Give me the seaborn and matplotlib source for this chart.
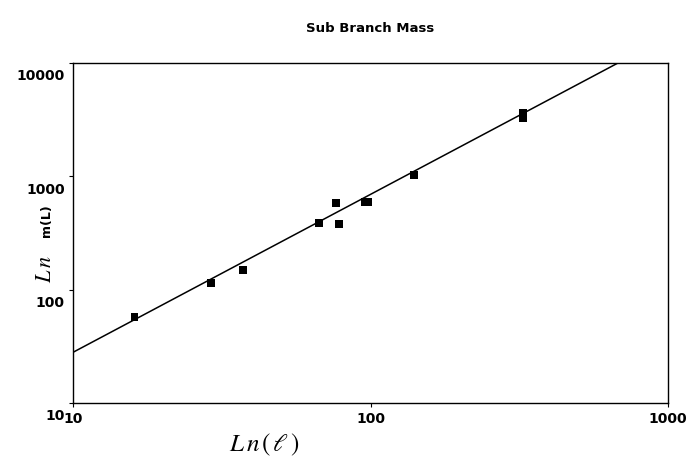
import seaborn as sns
import matplotlib.pyplot as plt
from matplotlib.transforms import ScaledTranslation

# values (log-log)
length = [16.1, 29.1, 37.2, 67.1, 76.5, 78.3, 95.7, 98.3, 140, 325, 326]
mass = [57, 115, 149, 387, 578, 379, 590, 590, 1028, 3623, 3252]
# fitted power-law line, end points
fit_length = [10, 679]
fit_mass = [28, 10000]
x_ticks = [10, 100, 1000]
y_ticks = [10, 100, 1000, 10000]

sns.set_theme(style="ticks")
plt.rcParams["font.family"] = ["DejaVu Sans"]
plt.rcParams["mathtext.fontset"] = "stix"
plt.rcParams["text.color"] = "black"

fig = plt.figure(figsize=(6.9, 4.64), dpi=100)
ax = fig.add_axes([73 / 690, 60 / 464, 595 / 690, 340 / 464])
ax.set_xscale("log")
ax.set_yscale("log")

sns.lineplot(x=fit_length, y=fit_mass, ax=ax, color="black", lw=1.1)
sns.scatterplot(x=length, y=mass, ax=ax, marker="s", s=32, color="black",
                edgecolor="none", zorder=3)

ax.set_xlim(10, 1000)
ax.set_ylim(10, 10000)
ax.minorticks_off()
ax.set_xticks(x_ticks, labels=[str(v) for v in x_ticks])
ax.set_yticks(y_ticks, labels=[str(v) for v in y_ticks])
ax.tick_params(direction="out", length=3, width=0.8, labelsize=10, pad=3,
               colors="black")
for lab in ax.get_xticklabels() + ax.get_yticklabels():
    lab.set_fontweight("bold")
# y labels sit a little below their ticks in the original
for lab in ax.get_yticklabels():
    lab.set_transform(lab.get_transform() + ScaledTranslation(0, -0.11, fig.dpi_scale_trans))

for sp in ax.spines.values():
    sp.set_color("black")
    sp.set_linewidth(1)
ax.set_xlabel("")
ax.set_ylabel("")

fig.text(370 / 690, 1 - 28 / 464, "Sub Branch Mass", ha="center", va="center",
         fontsize=9.5, fontweight="bold")
fig.text(45 / 690, 1 - 269 / 464, r"$L\,n$", rotation=90, ha="center", va="center",
         fontsize=16)
fig.text(47 / 690, 1 - 221 / 464, "m(L)", rotation=90, ha="center", va="center",
         fontsize=9, fontweight="bold")
fig.text(264 / 690, 1 - 445 / 464, r"$L\,n\,(\,\ell\,)$", ha="center", va="center",
         fontsize=18)

fig.savefig("out.png", dpi=100)
